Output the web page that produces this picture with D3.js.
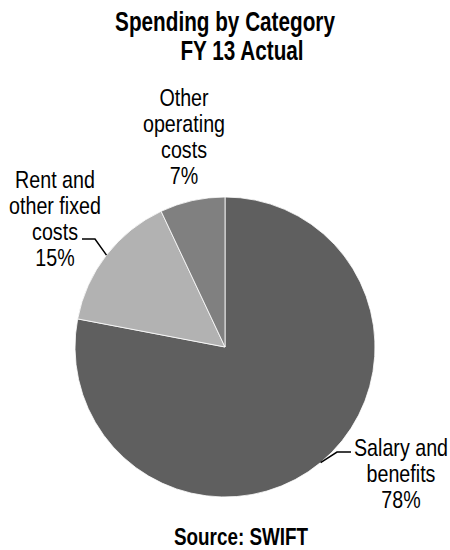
<!DOCTYPE html>
<html>
<head>
<meta charset="utf-8">
<script src="https://cdn.jsdelivr.net/npm/d3@7"></script>
<style>
  body { margin: 0; background: #fff; }
  text { font-family: "Liberation Sans", Arial, sans-serif; fill: #000; }
  .title, .source { font-weight: bold; }
</style>
</head>
<body>
<svg id="chart" width="450" height="550"></svg>
<script>
// data
const categories = ["Salary and benefits", "Rent and other fixed costs", "Other operating costs"];
const shares = [78, 15, 7];
const labelLines = [
  ["Salary and", "benefits", "78%"],
  ["Rent and", "other fixed", "costs", "15%"],
  ["Other", "operating", "costs", "7%"]
];
const sliceColors = ["#5f5f5f", "#b2b2b2", "#808080"];

const W = 450, H = 550;
const cx = 225, cy = 347, radius = 150;
const fontSize = 24, lineH = 26;
const narrow = 0.82; // squeeze Liberation Sans to look like Arial Narrow

// label placement: x = centre of text block, y = baseline of first line,
// elbow = where the leader turns horizontal (null = no leader)
const labelPos = [
  { x: 401, y: 456, elbow: [337, 452], end: [351, 452] },
  { x: 55, y: 188, elbow: [95, 239], end: [82, 239] },
  { x: 184, y: 106, elbow: null }
];

const Fig = d3.select("#chart");

const data = categories.map((c, i) => ({ name: c, value: shares[i], i }));

const pie = d3.pie().value(d => d.value).sort(null);
const arc = d3.arc().innerRadius(0).outerRadius(radius);

const g = Fig.append("g").attr("transform", `translate(${cx},${cy})`);
const arcs = pie(data);

g.selectAll("path.slice")
  .data(arcs)
  .join("path")
  .attr("class", "slice")
  .attr("d", arc)
  .attr("fill", d => sliceColors[d.data.i])
  .attr("stroke", "#ffffff")
  .attr("stroke-width", 0.8);

// leader lines
arcs.forEach(d => {
  const p = labelPos[d.data.i];
  if (!p.elbow) return;
  const a = (d.startAngle + d.endAngle) / 2;
  const sx = cx + Math.sin(a) * radius, sy = cy - Math.cos(a) * radius;
  Fig.append("polyline")
    .attr("points", `${sx},${sy} ${p.elbow[0]},${p.elbow[1]} ${p.end[0]},${p.end[1]}`)
    .attr("fill", "none")
    .attr("stroke", "#000")
    .attr("stroke-width", 1.5);
});

// helper: narrow text block centred at x, first baseline at y
function narrowText(x, y, lines, size, lh, cls, sx) {
  const t = Fig.append("g")
    .attr("transform", `translate(${x},${y}) scale(${sx || narrow},1)`)
    .append("text")
    .attr("class", cls || null)
    .attr("text-anchor", "middle")
    .style("font-size", size + "px");
  lines.forEach((l, j) => {
    t.append("tspan").attr("x", 0).attr("y", j * lh).text(l);
  });
}

// labels
labelLines.forEach((lines, i) => {
  const p = labelPos[i];
  narrowText(p.x, p.y, lines, fontSize, lineH);
});

// title
narrowText(225, 31, ["Spending by Category"], 28, 0, "title", 0.74);
narrowText(242, 60, ["FY 13 Actual"], 28, 0, "title", 0.74);

// source
narrowText(241, 545, ["Source: SWIFT"], 23, 0, "source");
</script>
</body>
</html>
